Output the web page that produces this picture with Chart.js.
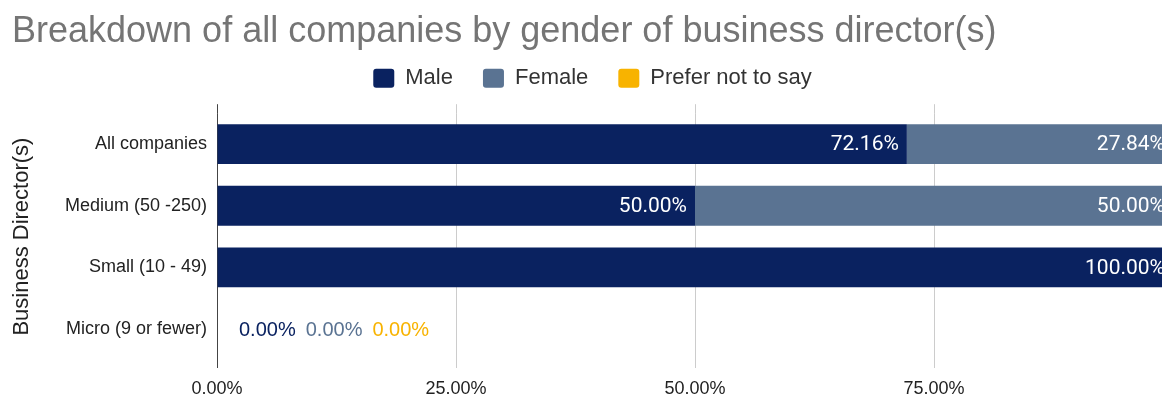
<!DOCTYPE html>
<html>
<head>
<meta charset="utf-8">
<title>Breakdown of all companies by gender of business director(s)</title>
<script src="https://cdn.jsdelivr.net/npm/chart.js@4/dist/chart.umd.min.js"></script>
<style>
    html, body { margin: 0; padding: 0; background: #fff; overflow: hidden; }
    #wrap { width: 1200px; height: 394px; }
</style>
</head>
<body>
<div id="wrap"><canvas id="directorChart" width="1200" height="394"></canvas></div>
<script>
// company size bands and share of each director gender (%)
const categories = ['All companies', 'Medium (50 -250)', 'Small (10 - 49)', 'Micro (9 or fewer)'];
const maleValues = [72.16, 50.00, 100.00, 0];
const femaleValues = [27.84, 50.00, null, 0];
const preferNotValues = [null, null, null, 0];
const xTickLabels = ['0.00%', '25.00%', '50.00%', '75.00%', ''];

const seriesColors = ['#0a2260', '#5a7392', '#f8b300'];

function gridColor(ctx) {
    return ctx.index === 0 ? '#444444' : '#cccccc';
}

// value labels: white inside the bar end, or in series colour after the axis for zero rows
const barLabels = {
    id: 'barLabels',
    afterDatasetsDraw(chart) {
        const ctx = chart.ctx;
        const zeroOffset = {};
        ctx.save();
        ctx.textBaseline = 'middle';
        chart.data.datasets.forEach((ds, i) => {
            const meta = chart.getDatasetMeta(i);
            if (meta.hidden) return;
            meta.data.forEach((bar, j) => {
                const v = ds.data[j];
                if (v === null || v === undefined) return;
                const text = v.toFixed(2) + '%';
                if (v > 0) {
                    ctx.font = '21px Roboto';
                    ctx.fillStyle = '#ffffff';
                    ctx.textAlign = 'right';
                    ctx.fillText(text, bar.x - 8, bar.y + 1);
                } else {
                    ctx.font = '20px "Liberation Sans", Arial';
                    ctx.fillStyle = ds.backgroundColor;
                    ctx.textAlign = 'left';
                    const x = zeroOffset[j] !== undefined ? zeroOffset[j] : bar.x + 22;
                    ctx.fillText(text, x, bar.y + 1);
                    zeroOffset[j] = x + ctx.measureText(text).width + 10;
                }
            });
        });
        ctx.restore();
    }
};

// vertical grid lines run a little above the first bar
const gridTop = {
    id: 'gridTop',
    beforeDatasetsDraw(chart) {
        const ctx = chart.ctx;
        const xs = chart.scales.x;
        const top = chart.chartArea.top;
        ctx.save();
        ctx.lineWidth = 1;
        xs.ticks.forEach((t, i) => {
            const x = Math.round(xs.getPixelForValue(t.value)) + 0.5;
            ctx.strokeStyle = i === 0 ? '#444444' : '#cccccc';
            ctx.beginPath();
            ctx.moveTo(x, top - 9);
            ctx.lineTo(x, top);
            ctx.stroke();
        });
        ctx.restore();
    }
};

// extra room between the legend row and the plot
const legendGap = {
    id: 'legendGap',
    afterInit(chart) {
        const legend = chart.legend;
        if (!legend) return;
        const fit = legend.fit.bind(legend);
        legend.fit = function () {
            fit();
            this.height += 14;
        };
    }
};

const ctx = document.getElementById('directorChart').getContext('2d');
new Chart(ctx, {
    type: 'bar',
    data: {
        labels: categories,
        datasets: [
            { label: 'Male', data: maleValues, backgroundColor: seriesColors[0] },
            { label: 'Female', data: femaleValues, backgroundColor: seriesColors[1] },
            { label: 'Prefer not to say', data: preferNotValues, backgroundColor: seriesColors[2] }
        ]
    },
    plugins: [barLabels, gridTop, legendGap],
    options: {
        indexAxis: 'y',
        responsive: false,
        animation: false,
        layout: { padding: { left: 12, right: 27, top: 0, bottom: 0 } },
        datasets: {
            bar: { barPercentage: 0.645, categoryPercentage: 1.0 }
        },
        plugins: {
            title: {
                display: true,
                text: 'Breakdown of all companies by gender of business director(s)',
                align: 'start',
                color: '#757575',
                font: { family: '"Liberation Sans", Arial', size: 36, weight: 'normal' },
                padding: { top: 10, bottom: -16 }
            },
            legend: {
                position: 'top',
                labels: {
                    color: '#333333',
                    font: { family: '"Liberation Sans", Arial', size: 22 },
                    boxWidth: 21,
                    boxHeight: 19,
                    useBorderRadius: true,
                    borderRadius: 3,
                    padding: 30
                }
            },
            tooltip: { enabled: false }
        },
        scales: {
            x: {
                stacked: true,
                min: 0,
                max: 100,
                border: { display: false },
                grid: { color: gridColor, tickColor: gridColor, tickLength: 8, drawTicks: true },
                ticks: {
                    stepSize: 25,
                    autoSkip: false,
                    maxRotation: 0,
                    padding: 10,
                    color: '#222222',
                    font: { family: '"Liberation Sans", Arial', size: 18 },
                    callback: (v, i) => xTickLabels[i]
                },
                afterFit(scale) { scale.height = 34; }
            },
            y: {
                stacked: true,
                border: { display: false },
                grid: { display: false, drawTicks: false },
                ticks: {
                    padding: 10,
                    color: '#222222',
                    font: { family: '"Liberation Sans", Arial', size: 18 }
                },
                title: {
                    display: true,
                    text: 'Business Director(s)',
                    color: '#222222',
                    font: { family: '"Liberation Sans", Arial', size: 22 },
                    padding: { top: -3, bottom: 0 }
                },
                afterFit(scale) { scale.width = 205; }
            }
        }
    }
});
</script>
</body>
</html>
